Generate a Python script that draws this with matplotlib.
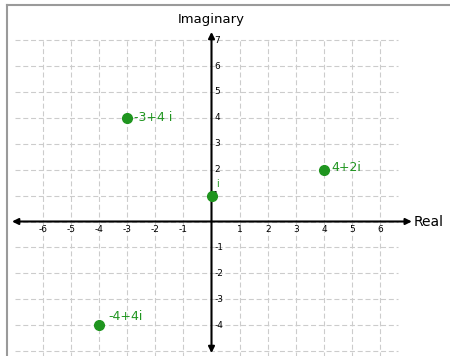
import matplotlib
matplotlib.use("Agg")
import matplotlib.pyplot as plt
from matplotlib.lines import Line2D

# complex numbers plotted as (real, imaginary) with their labels
re_vals = [-3, 4, 0, -4]
im_vals = [4, 2, 1, -4]
pt_labels = ["-3+4 i", "4+2i", "i", "-4+4i"]
# label offsets in pixels (dx, dy)
offsets = [(7, 0), (7, 2), (5, 12), (9, 9)]

x_ticks = [-6, -5, -4, -3, -2, -1, 1, 2, 3, 4, 5, 6]
y_ticks = [-4, -3, -2, -1, 1, 2, 3, 4, 5, 6, 7]

green = "#1f951f"
gridc = "#cccccc"

fig = plt.figure(figsize=(4.5, 3.56), dpi=100)
ax = fig.add_axes([0, 0, 1, 1])
ax.set_xlim(-211.5 / 28.1, 238.5 / 28.1)
ax.set_ylim(-134.5 / 25.9, 221.5 / 25.9)
ax.axis("off")

# dashed grid
for y in range(-5, 8):
    ax.plot([-7, 6.65], [y, y], color=gridc, lw=0.8, dashes=(4.5, 2.5), zorder=1)
for x in x_ticks:
    ax.plot([x, x], [-5.3, 7], color=gridc, lw=0.8, dashes=(4.5, 2.5), zorder=1)

# axes with arrows
arrow = dict(arrowstyle="<|-|>", color="black", lw=1.5, mutation_scale=9,
             shrinkA=0, shrinkB=0)
ax.annotate("", xy=(7.13, 0), xytext=(-7.1, 0), arrowprops=arrow, zorder=3)
ax.annotate("", xy=(0, 7.32), xytext=(0, -5.08), arrowprops=arrow, zorder=3)

ax.text(7.2, 0, "Real", fontsize=10, va="center", ha="left")
ax.text(0, 7.8, "Imaginary", fontsize=9.5, va="center", ha="center")

for x in x_ticks:
    ax.annotate(str(x), (x, 0), xytext=(0, -8), textcoords="offset pixels",
                fontsize=6.5, ha="center", va="center", zorder=4)
for y in y_ticks:
    # the "1" label sits mostly under the green point, as in the original
    ax.annotate(str(y), (0, y), xytext=(3 if y != 1 else 1, 0),
                textcoords="offset pixels",
                fontsize=6.5, ha="left", va="center", zorder=4)

# points
ax.plot(re_vals, im_vals, "o", color=green, ms=7, zorder=5)
for xv, yv, lab, (dx, dy) in zip(re_vals, im_vals, pt_labels, offsets):
    fs = 7 if lab == "i" else 9
    ax.annotate(lab, (xv, yv), xytext=(dx, dy), textcoords="offset pixels",
                fontsize=fs, color=green, ha="left", va="center", zorder=6)

# frame around the picture (left and top edges)
fig.add_artist(Line2D([6.5 / 450, 6.5 / 450], [0, 1 - 5 / 356],
                      color="#9a9a9a", lw=1.5, transform=fig.transFigure))
fig.add_artist(Line2D([6.5 / 450, 1], [1 - 5 / 356, 1 - 5 / 356],
                      color="#9a9a9a", lw=1.5, transform=fig.transFigure))

fig.savefig("out.png", dpi=100)
